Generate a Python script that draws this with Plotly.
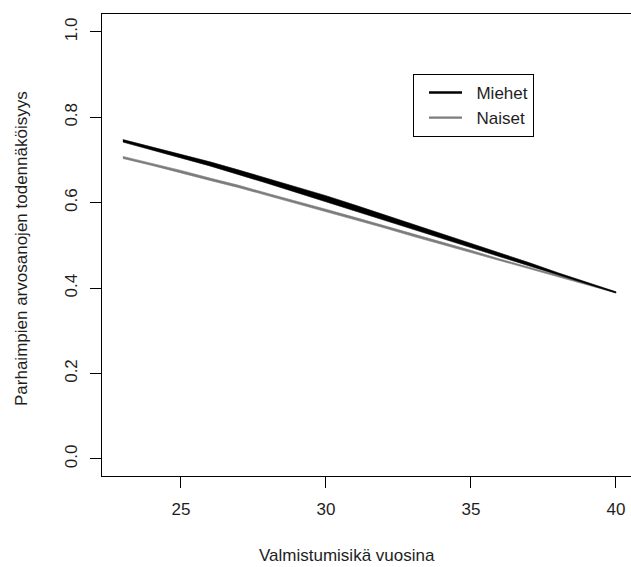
import plotly.graph_objects as go

# ---- data ----
ages = [23, 24, 25, 26, 27, 28, 29, 30, 31, 32, 33, 34, 35, 36, 37, 38, 39, 40]
miehet = [0.745, 0.727, 0.709, 0.691, 0.671, 0.651, 0.631, 0.610, 0.588,
          0.566, 0.544, 0.522, 0.500, 0.478, 0.456, 0.433, 0.412, 0.390]
naiset = [0.706, 0.690, 0.673, 0.655, 0.638, 0.619, 0.601, 0.582, 0.563,
          0.544, 0.524, 0.505, 0.486, 0.466, 0.447, 0.428, 0.409, 0.390]
series_names = ["Miehet", "Naiset"]
x_ticks = [25, 30, 35, 40]
y_ticks = [0.0, 0.2, 0.4, 0.6, 0.8, 1.0]
x_title = "Valmistumisikä vuosina"
y_title = "Parhaimpien arvosanojen todennäköisyys"

# ---- styles ----
W, H = 631, 567
ML, MT, MB, MR = 102, 14, 91, 0
PX_PER_X = 29.0
PX_PER_Y = 427.0
x0 = 22.28
x_range = [x0, x0 + (W - ML - MR) / PX_PER_X]
y_range = [-0.04, -0.04 + (H - MT - MB) / PX_PER_Y]
FONT = "Liberation Sans, Arial, sans-serif"
TXT = "#1e1e1e"
BLACK = "#000000"
GRAY = "#7c7c7c"
# stroke thickness (px) along the curves
miehet_px = [2.4, 2.9, 3.4, 3.9, 4.4, 4.8, 5.1, 5.3, 5.3, 5.1, 4.9, 4.5, 4.1,
             3.6, 3.1, 2.5, 1.9, 1.1]
naiset_px = [2.0, 2.1, 2.2, 2.2, 2.2, 2.2, 2.2, 2.2, 2.2, 2.2, 2.2, 2.2, 2.0,
             1.8, 1.6, 1.4, 1.2, 1.0]
NB = "\u00a0\u00a0"


def band(xs, ys, px, color, name):
    hw = [p * 1.05 / 2 / PX_PER_Y for p in px]
    upper = [y + h for y, h in zip(ys, hw)]
    lower = [y - h for y, h in zip(ys, hw)]
    return go.Scatter(
        x=xs + xs[::-1], y=upper + lower[::-1], mode="lines",
        fill="toself", fillcolor=color, line=dict(width=0.6, color=color),
        showlegend=False, hoverinfo="skip", name=name,
    )


fig = go.Figure()
fig.add_trace(band(ages, naiset, naiset_px, GRAY, series_names[1]))
fig.add_trace(band(ages, miehet, miehet_px, BLACK, series_names[0]))
# legend entries
fig.add_trace(go.Scatter(x=[None], y=[None], mode="lines", name=NB + series_names[0],
                         line=dict(color=BLACK, width=2.6)))
fig.add_trace(go.Scatter(x=[None], y=[None], mode="lines", name=NB + series_names[1],
                         line=dict(color=GRAY, width=2.2)))

axis_common = dict(
    showgrid=False, zeroline=False, showline=True, linecolor=BLACK,
    linewidth=1.2, ticks="outside", ticklen=11, tickwidth=1.2,
    tickcolor=BLACK, tickfont=dict(family=FONT, size=17, color=TXT),
)
fig.update_xaxes(range=x_range, tickvals=x_ticks, mirror=True,
                 ticklabelstandoff=6, **axis_common)
fig.update_yaxes(range=y_range, tickvals=y_ticks, tickformat=".1f",
                 tickangle=-90, ticklabelstandoff=6, **axis_common)

fig.update_layout(
    width=W, height=H, autosize=False,
    margin=dict(l=ML, r=MR, t=MT, b=MB, pad=0),
    plot_bgcolor="white", paper_bgcolor="white",
    font=dict(family=FONT, size=17, color=TXT),
    showlegend=True,
    legend=dict(
        x=(413 - ML) / (W - ML - MR), y=(H - MB - 74) / (H - MT - MB),
        xanchor="left", yanchor="top",
        bgcolor="white", bordercolor=BLACK, borderwidth=1,
        font=dict(family=FONT, size=17, color=TXT),
        itemwidth=33, indentation=10, tracegroupgap=0,
    ),
    annotations=[
        dict(text=x_title, xref="paper", yref="paper",
             x=(347 - ML) / (W - ML - MR), y=(H - MB - 555) / (H - MT - MB),
             xanchor="center", yanchor="middle", showarrow=False,
             font=dict(family=FONT, size=17, color=TXT)),
        dict(text=y_title, xref="paper", yref="paper", textangle=-90,
             x=(22 - ML) / (W - ML - MR), y=(H - MB - 249) / (H - MT - MB),
             xanchor="center", yanchor="middle", showarrow=False,
             font=dict(family=FONT, size=17, color=TXT)),
    ],
)

fig.write_html(
    "out.html",
    config={"displayModeBar": False},
    post_script="document.body.style.margin='0px';document.body.style.overflow='hidden';",
)
